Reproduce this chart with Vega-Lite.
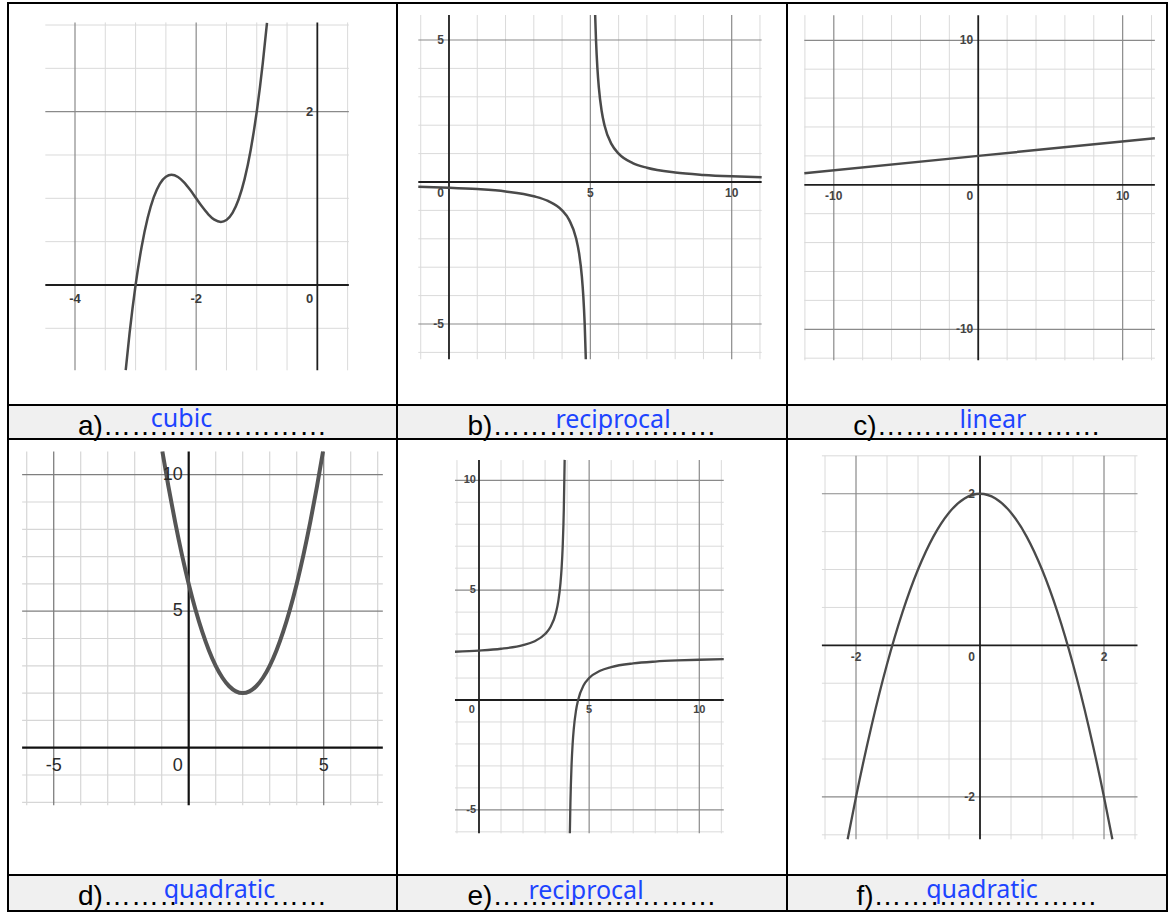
{
"$schema": "https://vega.github.io/schema/vega-lite/v6.json",
"background": "white",
"padding": {"left": 7, "top": 2, "right": 2, "bottom": 2},
"config": {"view": {"stroke": "#000000", "strokeWidth": 2}, "concat": {"spacing": 0}, "axis": {"disable": true}, "font": "Liberation Sans"},
"columns": 3,
"spacing": 0,
"bounds": "flush",
"concat": [
{
"width": 389, "height": 402,
"data": {"values": [
{"t":"x","k":"n","v":-3.5},{"t":"x","k":"n","v":-3},{"t":"x","k":"n","v":-2.5},{"t":"x","k":"n","v":-1.5},{"t":"x","k":"n","v":-1},{"t":"x","k":"n","v":-0.5},{"t":"x","k":"n","v":0.5},
{"t":"x","k":"m","v":-4},{"t":"x","k":"m","v":-2},{"t":"x","k":"a","v":0},
{"t":"y","k":"n","v":-0.5},{"t":"y","k":"n","v":0.5},{"t":"y","k":"n","v":1},{"t":"y","k":"n","v":1.5},{"t":"y","k":"n","v":2.5},{"t":"y","k":"n","v":3},
{"t":"y","k":"m","v":2},{"t":"y","k":"a","v":0},
{"t":"c","s":1,"x":-3.163,"y":-0.983},{"t":"c","s":1,"x":-3.1,"y":-0.562},{"t":"c","s":1,"x":-3,"y":0},{"t":"c","s":1,"x":-2.9,"y":0.442},{"t":"c","s":1,"x":-2.8,"y":0.776},{"t":"c","s":1,"x":-2.7,"y":1.014},{"t":"c","s":1,"x":-2.6,"y":1.168},{"t":"c","s":1,"x":-2.5,"y":1.25},{"t":"c","s":1,"x":-2.408,"y":1.272},{"t":"c","s":1,"x":-2.3,"y":1.246},{"t":"c","s":1,"x":-2.2,"y":1.184},{"t":"c","s":1,"x":-2.1,"y":1.098},{"t":"c","s":1,"x":-2,"y":1},{"t":"c","s":1,"x":-1.9,"y":0.902},{"t":"c","s":1,"x":-1.8,"y":0.816},{"t":"c","s":1,"x":-1.7,"y":0.754},{"t":"c","s":1,"x":-1.592,"y":0.728},{"t":"c","s":1,"x":-1.5,"y":0.75},{"t":"c","s":1,"x":-1.4,"y":0.832},{"t":"c","s":1,"x":-1.3,"y":0.986},{"t":"c","s":1,"x":-1.2,"y":1.224},{"t":"c","s":1,"x":-1.1,"y":1.558},{"t":"c","s":1,"x":-1,"y":2},{"t":"c","s":1,"x":-0.9,"y":2.562},{"t":"c","s":1,"x":-0.831,"y":3.026},
{"t":"b","x":-4,"y":0,"l":"-4"},{"t":"b","x":-2,"y":0,"l":"-2"},{"t":"o","x":0,"y":0,"l":"0"},{"t":"e","x":0,"y":2,"l":"2"}
]},
"layer": [
{"transform":[{"filter":"datum.t=='x'&&datum.k=='n'"}],"mark":{"type":"rule","color":"#dadada","strokeWidth":1},"encoding":{"x":{"field":"v","type":"quantitative","axis":null},"y":{"datum":-0.985,"axis":null},"y2":{"datum":3.03}}},
{"transform":[{"filter":"datum.t=='y'&&datum.k=='n'"}],"mark":{"type":"rule","color":"#dadada","strokeWidth":1},"encoding":{"y":{"field":"v","type":"quantitative","axis":null},"x":{"datum":-4.49,"axis":null},"x2":{"datum":0.52}}},
{"transform":[{"filter":"datum.t=='x'&&datum.k=='m'"}],"mark":{"type":"rule","color":"#8a8a8a","strokeWidth":1.2},"encoding":{"x":{"field":"v","type":"quantitative","axis":null},"y":{"datum":-0.985,"axis":null},"y2":{"datum":3.03}}},
{"transform":[{"filter":"datum.t=='y'&&datum.k=='m'"}],"mark":{"type":"rule","color":"#8a8a8a","strokeWidth":1.2},"encoding":{"y":{"field":"v","type":"quantitative","axis":null},"x":{"datum":-4.49,"axis":null},"x2":{"datum":0.52}}},
{"transform":[{"filter":"datum.t=='x'&&datum.k=='a'"}],"mark":{"type":"rule","color":"#1e1e1e","strokeWidth":1.8},"encoding":{"x":{"field":"v","type":"quantitative","axis":null},"y":{"datum":-0.985,"axis":null},"y2":{"datum":3.03}}},
{"transform":[{"filter":"datum.t=='y'&&datum.k=='a'"}],"mark":{"type":"rule","color":"#1e1e1e","strokeWidth":1.8},"encoding":{"y":{"field":"v","type":"quantitative","axis":null},"x":{"datum":-4.49,"axis":null},"x2":{"datum":0.52}}},
{"transform":[{"filter":"datum.t=='c'"}],"mark":{"type":"line","interpolate":"monotone","color":"#4a4a4a","strokeWidth":2.5},"encoding":{"x":{"field":"x","type":"quantitative","axis":null,"scale":{"domain":[-5.106,1.315],"nice":false,"zero":false}},"y":{"field":"y","type":"quantitative","axis":null,"scale":{"domain":[-1.385,3.254],"nice":false,"zero":false}},"detail":{"field":"s"}}},
{"transform":[{"filter":"datum.t=='b'"}],"mark":{"type":"text","align":"center","baseline":"top","dy":8,"fontSize":13,"fontWeight":"bold","color":"#3a3a3a"},"encoding":{"x":{"field":"x","type":"quantitative","axis":null},"y":{"field":"y","type":"quantitative","axis":null},"text":{"field":"l"}}},
{"transform":[{"filter":"datum.t=='o'"}],"mark":{"type":"text","align":"right","baseline":"top","dx":-4,"dy":8,"fontSize":13,"fontWeight":"bold","color":"#3a3a3a"},"encoding":{"x":{"field":"x","type":"quantitative","axis":null},"y":{"field":"y","type":"quantitative","axis":null},"text":{"field":"l"}}},
{"transform":[{"filter":"datum.t=='e'"}],"mark":{"type":"text","align":"right","baseline":"middle","dx":-4,"fontSize":13,"fontWeight":"bold","color":"#3a3a3a"},"encoding":{"x":{"field":"x","type":"quantitative","axis":null},"y":{"field":"y","type":"quantitative","axis":null},"text":{"field":"l"}}}
]
},
{
"width": 390, "height": 402,
"data": {"values": [
{"t":"x","k":"n","v":-1},{"t":"x","k":"n","v":1},{"t":"x","k":"n","v":2},{"t":"x","k":"n","v":3},{"t":"x","k":"n","v":4},{"t":"x","k":"n","v":6},{"t":"x","k":"n","v":7},{"t":"x","k":"n","v":8},{"t":"x","k":"n","v":9},{"t":"x","k":"n","v":11},
{"t":"x","k":"m","v":5},{"t":"x","k":"m","v":10},{"t":"x","k":"a","v":0},
{"t":"y","k":"n","v":-6},{"t":"y","k":"n","v":-4},{"t":"y","k":"n","v":-3},{"t":"y","k":"n","v":-2},{"t":"y","k":"n","v":-1},{"t":"y","k":"n","v":1},{"t":"y","k":"n","v":2},{"t":"y","k":"n","v":3},{"t":"y","k":"n","v":4},
{"t":"y","k":"m","v":-5},{"t":"y","k":"m","v":5},{"t":"y","k":"a","v":0},
{"t":"c","s":1,"x":-1.086,"y":-0.164},{"t":"c","s":1,"x":0,"y":-0.2},{"t":"c","s":1,"x":1,"y":-0.25},{"t":"c","s":1,"x":2,"y":-0.333},{"t":"c","s":1,"x":3,"y":-0.5},{"t":"c","s":1,"x":3.5,"y":-0.667},{"t":"c","s":1,"x":4,"y":-1},{"t":"c","s":1,"x":4.25,"y":-1.333},{"t":"c","s":1,"x":4.5,"y":-2},{"t":"c","s":1,"x":4.6,"y":-2.5},{"t":"c","s":1,"x":4.7,"y":-3.333},{"t":"c","s":1,"x":4.75,"y":-4},{"t":"c","s":1,"x":4.8,"y":-5},{"t":"c","s":1,"x":4.84,"y":-6.24},
{"t":"c","s":2,"x":5.17,"y":5.88},{"t":"c","s":2,"x":5.2,"y":5},{"t":"c","s":2,"x":5.25,"y":4},{"t":"c","s":2,"x":5.3,"y":3.333},{"t":"c","s":2,"x":5.4,"y":2.5},{"t":"c","s":2,"x":5.5,"y":2},{"t":"c","s":2,"x":5.75,"y":1.333},{"t":"c","s":2,"x":6,"y":1},{"t":"c","s":2,"x":6.5,"y":0.667},{"t":"c","s":2,"x":7,"y":0.5},{"t":"c","s":2,"x":8,"y":0.333},{"t":"c","s":2,"x":9,"y":0.25},{"t":"c","s":2,"x":10,"y":0.2},{"t":"c","s":2,"x":11.06,"y":0.165},
{"t":"b","x":5,"y":0,"l":"5"},{"t":"b","x":10,"y":0,"l":"10"},{"t":"o","x":0,"y":0,"l":"0"},{"t":"e","x":0,"y":5,"l":"5"},{"t":"e","x":0,"y":-5,"l":"-5"}
]},
"layer": [
{"transform":[{"filter":"datum.t=='x'&&datum.k=='n'"}],"mark":{"type":"rule","color":"#dadada","strokeWidth":1},"encoding":{"x":{"field":"v","type":"quantitative","axis":null},"y":{"datum":-6.24,"axis":null},"y2":{"datum":5.88}}},
{"transform":[{"filter":"datum.t=='y'&&datum.k=='n'"}],"mark":{"type":"rule","color":"#dadada","strokeWidth":1},"encoding":{"y":{"field":"v","type":"quantitative","axis":null},"x":{"datum":-1.086,"axis":null},"x2":{"datum":11.06}}},
{"transform":[{"filter":"datum.t=='x'&&datum.k=='m'"}],"mark":{"type":"rule","color":"#8a8a8a","strokeWidth":1.2},"encoding":{"x":{"field":"v","type":"quantitative","axis":null},"y":{"datum":-6.24,"axis":null},"y2":{"datum":5.88}}},
{"transform":[{"filter":"datum.t=='y'&&datum.k=='m'"}],"mark":{"type":"rule","color":"#8a8a8a","strokeWidth":1.2},"encoding":{"y":{"field":"v","type":"quantitative","axis":null},"x":{"datum":-1.086,"axis":null},"x2":{"datum":11.06}}},
{"transform":[{"filter":"datum.t=='x'&&datum.k=='a'"}],"mark":{"type":"rule","color":"#1e1e1e","strokeWidth":1.8},"encoding":{"x":{"field":"v","type":"quantitative","axis":null},"y":{"datum":-6.24,"axis":null},"y2":{"datum":5.88}}},
{"transform":[{"filter":"datum.t=='y'&&datum.k=='a'"}],"mark":{"type":"rule","color":"#1e1e1e","strokeWidth":1.8},"encoding":{"y":{"field":"v","type":"quantitative","axis":null},"x":{"datum":-1.086,"axis":null},"x2":{"datum":11.06}}},
{"transform":[{"filter":"datum.t=='c'"}],"mark":{"type":"line","interpolate":"monotone","color":"#4a4a4a","strokeWidth":2.5},"encoding":{"x":{"field":"x","type":"quantitative","axis":null,"scale":{"domain":[-1.839,11.956],"nice":false,"zero":false}},"y":{"field":"y","type":"quantitative","axis":null,"scale":{"domain":[-7.852,6.303],"nice":false,"zero":false}},"detail":{"field":"s"}}},
{"transform":[{"filter":"datum.t=='b'"}],"mark":{"type":"text","align":"center","baseline":"top","dy":6,"fontSize":12,"fontWeight":"bold","color":"#444444"},"encoding":{"x":{"field":"x","type":"quantitative","axis":null},"y":{"field":"y","type":"quantitative","axis":null},"text":{"field":"l"}}},
{"transform":[{"filter":"datum.t=='o'"}],"mark":{"type":"text","align":"right","baseline":"top","dx":-5,"dy":6,"fontSize":12,"fontWeight":"bold","color":"#444444"},"encoding":{"x":{"field":"x","type":"quantitative","axis":null},"y":{"field":"y","type":"quantitative","axis":null},"text":{"field":"l"}}},
{"transform":[{"filter":"datum.t=='e'"}],"mark":{"type":"text","align":"right","baseline":"middle","dx":-5,"fontSize":12,"fontWeight":"bold","color":"#444444"},"encoding":{"x":{"field":"x","type":"quantitative","axis":null},"y":{"field":"y","type":"quantitative","axis":null},"text":{"field":"l"}}}
]
},
{
"width": 380, "height": 402,
"data": {"values": [
{"t":"x","k":"n","v":-12},{"t":"x","k":"n","v":-8},{"t":"x","k":"n","v":-6},{"t":"x","k":"n","v":-4},{"t":"x","k":"n","v":-2},{"t":"x","k":"n","v":2},{"t":"x","k":"n","v":4},{"t":"x","k":"n","v":6},{"t":"x","k":"n","v":8},{"t":"x","k":"n","v":12},
{"t":"x","k":"m","v":-10},{"t":"x","k":"m","v":10},{"t":"x","k":"a","v":0},
{"t":"y","k":"n","v":-12},{"t":"y","k":"n","v":-8},{"t":"y","k":"n","v":-6},{"t":"y","k":"n","v":-4},{"t":"y","k":"n","v":-2},{"t":"y","k":"n","v":2},{"t":"y","k":"n","v":4},{"t":"y","k":"n","v":6},{"t":"y","k":"n","v":8},
{"t":"y","k":"m","v":-10},{"t":"y","k":"m","v":10},{"t":"y","k":"a","v":0},
{"t":"c","s":1,"x":-12.04,"y":0.796},{"t":"c","s":1,"x":0,"y":2},{"t":"c","s":1,"x":12.23,"y":3.223},
{"t":"b","x":-10,"y":0,"l":"-10"},{"t":"b","x":10,"y":0,"l":"10"},{"t":"o","x":0,"y":0,"l":"0"},{"t":"e","x":0,"y":10,"l":"10"},{"t":"e","x":0,"y":-10,"l":"-10"}
]},
"layer": [
{"transform":[{"filter":"datum.t=='x'&&datum.k=='n'"}],"mark":{"type":"rule","color":"#dadada","strokeWidth":1},"encoding":{"x":{"field":"v","type":"quantitative","axis":null},"y":{"datum":-12.15,"axis":null},"y2":{"datum":11.74}}},
{"transform":[{"filter":"datum.t=='y'&&datum.k=='n'"}],"mark":{"type":"rule","color":"#dadada","strokeWidth":1},"encoding":{"y":{"field":"v","type":"quantitative","axis":null},"x":{"datum":-12.04,"axis":null},"x2":{"datum":12.23}}},
{"transform":[{"filter":"datum.t=='x'&&datum.k=='m'"}],"mark":{"type":"rule","color":"#8a8a8a","strokeWidth":1.2},"encoding":{"x":{"field":"v","type":"quantitative","axis":null},"y":{"datum":-12.15,"axis":null},"y2":{"datum":11.74}}},
{"transform":[{"filter":"datum.t=='y'&&datum.k=='m'"}],"mark":{"type":"rule","color":"#8a8a8a","strokeWidth":1.2},"encoding":{"y":{"field":"v","type":"quantitative","axis":null},"x":{"datum":-12.04,"axis":null},"x2":{"datum":12.23}}},
{"transform":[{"filter":"datum.t=='x'&&datum.k=='a'"}],"mark":{"type":"rule","color":"#1e1e1e","strokeWidth":1.8},"encoding":{"x":{"field":"v","type":"quantitative","axis":null},"y":{"datum":-12.15,"axis":null},"y2":{"datum":11.74}}},
{"transform":[{"filter":"datum.t=='y'&&datum.k=='a'"}],"mark":{"type":"rule","color":"#1e1e1e","strokeWidth":1.8},"encoding":{"y":{"field":"v","type":"quantitative","axis":null},"x":{"datum":-12.04,"axis":null},"x2":{"datum":12.23}}},
{"transform":[{"filter":"datum.t=='c'"}],"mark":{"type":"line","color":"#4a4a4a","strokeWidth":2.5},"encoding":{"x":{"field":"x","type":"quantitative","axis":null,"scale":{"domain":[-13.24,13.07],"nice":false,"zero":false}},"y":{"field":"y","type":"quantitative","axis":null,"scale":{"domain":[-15.24,12.58],"nice":false,"zero":false}},"detail":{"field":"s"}}},
{"transform":[{"filter":"datum.t=='b'"}],"mark":{"type":"text","align":"center","baseline":"top","dy":6,"fontSize":12,"fontWeight":"bold","color":"#444444"},"encoding":{"x":{"field":"x","type":"quantitative","axis":null},"y":{"field":"y","type":"quantitative","axis":null},"text":{"field":"l"}}},
{"transform":[{"filter":"datum.t=='o'"}],"mark":{"type":"text","align":"right","baseline":"top","dx":-5,"dy":6,"fontSize":12,"fontWeight":"bold","color":"#444444"},"encoding":{"x":{"field":"x","type":"quantitative","axis":null},"y":{"field":"y","type":"quantitative","axis":null},"text":{"field":"l"}}},
{"transform":[{"filter":"datum.t=='e'"}],"mark":{"type":"text","align":"right","baseline":"middle","dx":-5,"fontSize":12,"fontWeight":"bold","color":"#444444"},"encoding":{"x":{"field":"x","type":"quantitative","axis":null},"y":{"field":"y","type":"quantitative","axis":null},"text":{"field":"l"}}}
]
},
{
"width": 389, "height": 34, "view": {"fill": "#f0f0f0", "stroke": "#000000", "strokeWidth": 2},
"data": {"values": [{"p": "a)\u2026\u2026\u2026\u2026\u2026\u2026\u2026\u2026", "w": "cubic"}]},
"layer": [
{"mark": {"type": "text", "font": "Liberation Sans", "fontSize": 28, "baseline": "alphabetic", "dy": 13, "color": "#000000"}, "encoding": {"text": {"field": "p"}}},
{"mark": {"type": "text", "font": "Noto Sans", "fontSize": 25, "baseline": "alphabetic", "dx": -21, "dy": 5, "color": "#1d44ff"}, "encoding": {"text": {"field": "w"}}}
]
},
{
"width": 390, "height": 34, "view": {"fill": "#f0f0f0", "stroke": "#000000", "strokeWidth": 2},
"data": {"values": [{"p": "b)\u2026\u2026\u2026\u2026\u2026\u2026\u2026\u2026", "w": "reciprocal"}]},
"layer": [
{"mark": {"type": "text", "font": "Liberation Sans", "fontSize": 28, "baseline": "alphabetic", "dy": 13, "color": "#000000"}, "encoding": {"text": {"field": "p"}}},
{"mark": {"type": "text", "font": "Noto Sans", "fontSize": 25, "baseline": "alphabetic", "dx": 21, "dy": 6, "color": "#1d44ff"}, "encoding": {"text": {"field": "w"}}}
]
},
{
"width": 380, "height": 34, "view": {"fill": "#f0f0f0", "stroke": "#000000", "strokeWidth": 2},
"data": {"values": [{"p": "c)\u2026\u2026\u2026\u2026\u2026\u2026\u2026\u2026", "w": "linear"}]},
"layer": [
{"mark": {"type": "text", "font": "Liberation Sans", "fontSize": 28, "baseline": "alphabetic", "dy": 13, "color": "#000000"}, "encoding": {"text": {"field": "p"}}},
{"mark": {"type": "text", "font": "Noto Sans", "fontSize": 25, "baseline": "alphabetic", "dx": 16, "dy": 6, "color": "#1d44ff"}, "encoding": {"text": {"field": "w"}}}
]
},
{
"width": 389, "height": 436,
"data": {"values": [
{"t":"x","k":"n","v":-6},{"t":"x","k":"n","v":-4},{"t":"x","k":"n","v":-3},{"t":"x","k":"n","v":-2},{"t":"x","k":"n","v":-1},{"t":"x","k":"n","v":1},{"t":"x","k":"n","v":2},{"t":"x","k":"n","v":3},{"t":"x","k":"n","v":4},{"t":"x","k":"n","v":6},{"t":"x","k":"n","v":7},
{"t":"x","k":"m","v":-5},{"t":"x","k":"m","v":5},{"t":"x","k":"a","v":0},
{"t":"y","k":"n","v":-2},{"t":"y","k":"n","v":-1},{"t":"y","k":"n","v":1},{"t":"y","k":"n","v":2},{"t":"y","k":"n","v":3},{"t":"y","k":"n","v":4},{"t":"y","k":"n","v":6},{"t":"y","k":"n","v":7},{"t":"y","k":"n","v":8},{"t":"y","k":"n","v":9},
{"t":"y","k":"m","v":5},{"t":"y","k":"m","v":10},{"t":"y","k":"a","v":0},
{"t":"c","s":1,"x":-0.975,"y":10.851},{"t":"c","s":1,"x":-0.75,"y":9.563},{"t":"c","s":1,"x":-0.5,"y":8.25},{"t":"c","s":1,"x":-0.25,"y":7.063},{"t":"c","s":1,"x":0,"y":6},{"t":"c","s":1,"x":0.25,"y":5.063},{"t":"c","s":1,"x":0.5,"y":4.25},{"t":"c","s":1,"x":0.75,"y":3.563},{"t":"c","s":1,"x":1,"y":3},{"t":"c","s":1,"x":1.25,"y":2.563},{"t":"c","s":1,"x":1.5,"y":2.25},{"t":"c","s":1,"x":1.75,"y":2.063},{"t":"c","s":1,"x":2,"y":2},{"t":"c","s":1,"x":2.25,"y":2.063},{"t":"c","s":1,"x":2.5,"y":2.25},{"t":"c","s":1,"x":2.75,"y":2.563},{"t":"c","s":1,"x":3,"y":3},{"t":"c","s":1,"x":3.25,"y":3.563},{"t":"c","s":1,"x":3.5,"y":4.25},{"t":"c","s":1,"x":3.75,"y":5.063},{"t":"c","s":1,"x":4,"y":6},{"t":"c","s":1,"x":4.25,"y":7.063},{"t":"c","s":1,"x":4.5,"y":8.25},{"t":"c","s":1,"x":4.75,"y":9.563},{"t":"c","s":1,"x":4.975,"y":10.851},
{"t":"b","x":-5,"y":0,"l":"-5"},{"t":"b","x":5,"y":0,"l":"5"},{"t":"o","x":0,"y":0,"l":"0"},{"t":"e","x":0,"y":5,"l":"5"},{"t":"e","x":0,"y":10,"l":"10"}
]},
"layer": [
{"transform":[{"filter":"datum.t=='x'&&datum.k=='n'"}],"mark":{"type":"rule","color":"#d6d6d6","strokeWidth":1.2},"encoding":{"x":{"field":"v","type":"quantitative","axis":null},"y":{"datum":-2.11,"axis":null},"y2":{"datum":10.85}}},
{"transform":[{"filter":"datum.t=='y'&&datum.k=='n'"}],"mark":{"type":"rule","color":"#d6d6d6","strokeWidth":1.2},"encoding":{"y":{"field":"v","type":"quantitative","axis":null},"x":{"datum":-6.17,"axis":null},"x2":{"datum":7.19}}},
{"transform":[{"filter":"datum.t=='x'&&datum.k=='m'"}],"mark":{"type":"rule","color":"#7f7f7f","strokeWidth":1.3},"encoding":{"x":{"field":"v","type":"quantitative","axis":null},"y":{"datum":-2.11,"axis":null},"y2":{"datum":10.85}}},
{"transform":[{"filter":"datum.t=='y'&&datum.k=='m'"}],"mark":{"type":"rule","color":"#7f7f7f","strokeWidth":1.3},"encoding":{"y":{"field":"v","type":"quantitative","axis":null},"x":{"datum":-6.17,"axis":null},"x2":{"datum":7.19}}},
{"transform":[{"filter":"datum.t=='x'&&datum.k=='a'"}],"mark":{"type":"rule","color":"#111111","strokeWidth":2.2},"encoding":{"x":{"field":"v","type":"quantitative","axis":null},"y":{"datum":-2.11,"axis":null},"y2":{"datum":10.85}}},
{"transform":[{"filter":"datum.t=='y'&&datum.k=='a'"}],"mark":{"type":"rule","color":"#111111","strokeWidth":2.2},"encoding":{"y":{"field":"v","type":"quantitative","axis":null},"x":{"datum":-6.17,"axis":null},"x2":{"datum":7.19}}},
{"transform":[{"filter":"datum.t=='c'"}],"mark":{"type":"line","interpolate":"monotone","color":"#555555","strokeWidth":4},"encoding":{"x":{"field":"x","type":"quantitative","axis":null,"scale":{"domain":[-6.693,7.715],"nice":false,"zero":false}},"y":{"field":"y","type":"quantitative","axis":null,"scale":{"domain":[-4.663,11.308],"nice":false,"zero":false}},"detail":{"field":"s"}}},
{"transform":[{"filter":"datum.t=='b'"}],"mark":{"type":"text","align":"center","baseline":"top","dy":9,"fontSize":18,"color":"#2a2a2a"},"encoding":{"x":{"field":"x","type":"quantitative","axis":null},"y":{"field":"y","type":"quantitative","axis":null},"text":{"field":"l"}}},
{"transform":[{"filter":"datum.t=='o'"}],"mark":{"type":"text","align":"right","baseline":"top","dx":-6,"dy":9,"fontSize":18,"color":"#2a2a2a"},"encoding":{"x":{"field":"x","type":"quantitative","axis":null},"y":{"field":"y","type":"quantitative","axis":null},"text":{"field":"l"}}},
{"transform":[{"filter":"datum.t=='e'"}],"mark":{"type":"text","align":"right","baseline":"middle","dx":-6,"fontSize":18,"color":"#2a2a2a"},"encoding":{"x":{"field":"x","type":"quantitative","axis":null},"y":{"field":"y","type":"quantitative","axis":null},"text":{"field":"l"}}}
]
},
{
"width": 390, "height": 436,
"data": {"values": [
{"t":"x","k":"n","v":-1},{"t":"x","k":"n","v":1},{"t":"x","k":"n","v":2},{"t":"x","k":"n","v":3},{"t":"x","k":"n","v":4},{"t":"x","k":"n","v":6},{"t":"x","k":"n","v":7},{"t":"x","k":"n","v":8},{"t":"x","k":"n","v":9},{"t":"x","k":"n","v":11},
{"t":"x","k":"m","v":5},{"t":"x","k":"m","v":10},{"t":"x","k":"a","v":0},
{"t":"y","k":"n","v":-6},{"t":"y","k":"n","v":-4},{"t":"y","k":"n","v":-3},{"t":"y","k":"n","v":-2},{"t":"y","k":"n","v":-1},{"t":"y","k":"n","v":1},{"t":"y","k":"n","v":2},{"t":"y","k":"n","v":3},{"t":"y","k":"n","v":4},{"t":"y","k":"n","v":6},{"t":"y","k":"n","v":7},{"t":"y","k":"n","v":8},{"t":"y","k":"n","v":9},
{"t":"y","k":"m","v":-5},{"t":"y","k":"m","v":5},{"t":"y","k":"m","v":10},{"t":"y","k":"a","v":0},
{"t":"c","s":1,"x":-1.09,"y":2.196},{"t":"c","s":1,"x":0,"y":2.25},{"t":"c","s":1,"x":1,"y":2.333},{"t":"c","s":1,"x":2,"y":2.5},{"t":"c","s":1,"x":2.5,"y":2.667},{"t":"c","s":1,"x":3,"y":3},{"t":"c","s":1,"x":3.25,"y":3.333},{"t":"c","s":1,"x":3.5,"y":4},{"t":"c","s":1,"x":3.6,"y":4.5},{"t":"c","s":1,"x":3.7,"y":5.333},{"t":"c","s":1,"x":3.75,"y":6},{"t":"c","s":1,"x":3.8,"y":7},{"t":"c","s":1,"x":3.85,"y":8.667},{"t":"c","s":1,"x":3.888,"y":10.929},
{"t":"c","s":2,"x":4.124,"y":-6.065},{"t":"c","s":2,"x":4.15,"y":-4.667},{"t":"c","s":2,"x":4.2,"y":-3},{"t":"c","s":2,"x":4.25,"y":-2},{"t":"c","s":2,"x":4.3,"y":-1.333},{"t":"c","s":2,"x":4.4,"y":-0.5},{"t":"c","s":2,"x":4.5,"y":0},{"t":"c","s":2,"x":4.75,"y":0.667},{"t":"c","s":2,"x":5,"y":1},{"t":"c","s":2,"x":5.5,"y":1.333},{"t":"c","s":2,"x":6,"y":1.5},{"t":"c","s":2,"x":7,"y":1.667},{"t":"c","s":2,"x":8,"y":1.75},{"t":"c","s":2,"x":9,"y":1.8},{"t":"c","s":2,"x":10,"y":1.833},{"t":"c","s":2,"x":11.11,"y":1.859},
{"t":"b","x":5,"y":0,"l":"5"},{"t":"b","x":10,"y":0,"l":"10"},{"t":"o","x":0,"y":0,"l":"0"},{"t":"e","x":0,"y":10,"l":"10"},{"t":"e","x":0,"y":5,"l":"5"},{"t":"e","x":0,"y":-5,"l":"-5"}
]},
"layer": [
{"transform":[{"filter":"datum.t=='x'&&datum.k=='n'"}],"mark":{"type":"rule","color":"#dadada","strokeWidth":1},"encoding":{"x":{"field":"v","type":"quantitative","axis":null},"y":{"datum":-6.07,"axis":null},"y2":{"datum":10.92}}},
{"transform":[{"filter":"datum.t=='y'&&datum.k=='n'"}],"mark":{"type":"rule","color":"#dadada","strokeWidth":1},"encoding":{"y":{"field":"v","type":"quantitative","axis":null},"x":{"datum":-1.09,"axis":null},"x2":{"datum":11.11}}},
{"transform":[{"filter":"datum.t=='x'&&datum.k=='m'"}],"mark":{"type":"rule","color":"#8a8a8a","strokeWidth":1.2},"encoding":{"x":{"field":"v","type":"quantitative","axis":null},"y":{"datum":-6.07,"axis":null},"y2":{"datum":10.92}}},
{"transform":[{"filter":"datum.t=='y'&&datum.k=='m'"}],"mark":{"type":"rule","color":"#8a8a8a","strokeWidth":1.2},"encoding":{"y":{"field":"v","type":"quantitative","axis":null},"x":{"datum":-1.09,"axis":null},"x2":{"datum":11.11}}},
{"transform":[{"filter":"datum.t=='x'&&datum.k=='a'"}],"mark":{"type":"rule","color":"#1e1e1e","strokeWidth":1.8},"encoding":{"x":{"field":"v","type":"quantitative","axis":null},"y":{"datum":-6.07,"axis":null},"y2":{"datum":10.92}}},
{"transform":[{"filter":"datum.t=='y'&&datum.k=='a'"}],"mark":{"type":"rule","color":"#1e1e1e","strokeWidth":1.8},"encoding":{"y":{"field":"v","type":"quantitative","axis":null},"x":{"datum":-1.09,"axis":null},"x2":{"datum":11.11}}},
{"transform":[{"filter":"datum.t=='c'"}],"mark":{"type":"line","interpolate":"monotone","color":"#4a4a4a","strokeWidth":2.3},"encoding":{"x":{"field":"x","type":"quantitative","axis":null,"scale":{"domain":[-3.722,13.981],"nice":false,"zero":false}},"y":{"field":"y","type":"quantitative","axis":null,"scale":{"domain":[-7.965,11.88],"nice":false,"zero":false}},"detail":{"field":"s"}}},
{"transform":[{"filter":"datum.t=='b'"}],"mark":{"type":"text","align":"center","baseline":"top","dy":4,"fontSize":11,"fontWeight":"bold","color":"#444444"},"encoding":{"x":{"field":"x","type":"quantitative","axis":null},"y":{"field":"y","type":"quantitative","axis":null},"text":{"field":"l"}}},
{"transform":[{"filter":"datum.t=='o'"}],"mark":{"type":"text","align":"right","baseline":"top","dx":-4,"dy":4,"fontSize":11,"fontWeight":"bold","color":"#444444"},"encoding":{"x":{"field":"x","type":"quantitative","axis":null},"y":{"field":"y","type":"quantitative","axis":null},"text":{"field":"l"}}},
{"transform":[{"filter":"datum.t=='e'"}],"mark":{"type":"text","align":"right","baseline":"middle","dx":-3,"fontSize":11,"fontWeight":"bold","color":"#444444"},"encoding":{"x":{"field":"x","type":"quantitative","axis":null},"y":{"field":"y","type":"quantitative","axis":null},"text":{"field":"l"}}}
]
},
{
"width": 380, "height": 436,
"data": {"values": [
{"t":"x","k":"n","v":-2.5},{"t":"x","k":"n","v":-1.5},{"t":"x","k":"n","v":-1},{"t":"x","k":"n","v":-0.5},{"t":"x","k":"n","v":0.5},{"t":"x","k":"n","v":1},{"t":"x","k":"n","v":1.5},{"t":"x","k":"n","v":2.5},
{"t":"x","k":"m","v":-2},{"t":"x","k":"m","v":2},{"t":"x","k":"a","v":0},
{"t":"y","k":"n","v":-2.5},{"t":"y","k":"n","v":-1.5},{"t":"y","k":"n","v":-1},{"t":"y","k":"n","v":-0.5},{"t":"y","k":"n","v":0.5},{"t":"y","k":"n","v":1},{"t":"y","k":"n","v":1.5},{"t":"y","k":"n","v":2.5},
{"t":"y","k":"m","v":-2},{"t":"y","k":"m","v":2},{"t":"y","k":"a","v":0},
{"t":"c","s":1,"x":-2.135,"y":-2.558},{"t":"c","s":1,"x":-2,"y":-2},{"t":"c","s":1,"x":-1.75,"y":-1.063},{"t":"c","s":1,"x":-1.5,"y":-0.25},{"t":"c","s":1,"x":-1.25,"y":0.438},{"t":"c","s":1,"x":-1,"y":1},{"t":"c","s":1,"x":-0.75,"y":1.438},{"t":"c","s":1,"x":-0.5,"y":1.75},{"t":"c","s":1,"x":-0.25,"y":1.938},{"t":"c","s":1,"x":0,"y":2},{"t":"c","s":1,"x":0.25,"y":1.938},{"t":"c","s":1,"x":0.5,"y":1.75},{"t":"c","s":1,"x":0.75,"y":1.438},{"t":"c","s":1,"x":1,"y":1},{"t":"c","s":1,"x":1.25,"y":0.438},{"t":"c","s":1,"x":1.5,"y":-0.25},{"t":"c","s":1,"x":1.75,"y":-1.063},{"t":"c","s":1,"x":2,"y":-2},{"t":"c","s":1,"x":2.135,"y":-2.558},
{"t":"b","x":-2,"y":0,"l":"-2"},{"t":"b","x":2,"y":0,"l":"2"},{"t":"o","x":0,"y":0,"l":"0"},{"t":"e","x":0,"y":2,"l":"2"},{"t":"e","x":0,"y":-2,"l":"-2"}
]},
"layer": [
{"transform":[{"filter":"datum.t=='x'&&datum.k=='n'"}],"mark":{"type":"rule","color":"#dadada","strokeWidth":1},"encoding":{"x":{"field":"v","type":"quantitative","axis":null},"y":{"datum":-2.56,"axis":null},"y2":{"datum":2.5}}},
{"transform":[{"filter":"datum.t=='y'&&datum.k=='n'"}],"mark":{"type":"rule","color":"#dadada","strokeWidth":1},"encoding":{"y":{"field":"v","type":"quantitative","axis":null},"x":{"datum":-2.55,"axis":null},"x2":{"datum":2.54}}},
{"transform":[{"filter":"datum.t=='x'&&datum.k=='m'"}],"mark":{"type":"rule","color":"#8a8a8a","strokeWidth":1.2},"encoding":{"x":{"field":"v","type":"quantitative","axis":null},"y":{"datum":-2.56,"axis":null},"y2":{"datum":2.5}}},
{"transform":[{"filter":"datum.t=='y'&&datum.k=='m'"}],"mark":{"type":"rule","color":"#8a8a8a","strokeWidth":1.2},"encoding":{"y":{"field":"v","type":"quantitative","axis":null},"x":{"datum":-2.55,"axis":null},"x2":{"datum":2.54}}},
{"transform":[{"filter":"datum.t=='x'&&datum.k=='a'"}],"mark":{"type":"rule","color":"#1e1e1e","strokeWidth":1.8},"encoding":{"x":{"field":"v","type":"quantitative","axis":null},"y":{"datum":-2.56,"axis":null},"y2":{"datum":2.5}}},
{"transform":[{"filter":"datum.t=='y'&&datum.k=='a'"}],"mark":{"type":"rule","color":"#1e1e1e","strokeWidth":1.8},"encoding":{"y":{"field":"v","type":"quantitative","axis":null},"x":{"datum":-2.55,"axis":null},"x2":{"datum":2.54}}},
{"transform":[{"filter":"datum.t=='c'"}],"mark":{"type":"line","interpolate":"monotone","color":"#4a4a4a","strokeWidth":2.3},"encoding":{"x":{"field":"x","type":"quantitative","axis":null,"scale":{"domain":[-3.113,3.016],"nice":false,"zero":false}},"y":{"field":"y","type":"quantitative","axis":null,"scale":{"domain":[-3.03,2.722],"nice":false,"zero":false}},"detail":{"field":"s"}}},
{"transform":[{"filter":"datum.t=='b'"}],"mark":{"type":"text","align":"center","baseline":"top","dy":7,"fontSize":12,"fontWeight":"bold","color":"#444444"},"encoding":{"x":{"field":"x","type":"quantitative","axis":null},"y":{"field":"y","type":"quantitative","axis":null},"text":{"field":"l"}}},
{"transform":[{"filter":"datum.t=='o'"}],"mark":{"type":"text","align":"right","baseline":"top","dx":-5,"dy":7,"fontSize":12,"fontWeight":"bold","color":"#444444"},"encoding":{"x":{"field":"x","type":"quantitative","axis":null},"y":{"field":"y","type":"quantitative","axis":null},"text":{"field":"l"}}},
{"transform":[{"filter":"datum.t=='e'"}],"mark":{"type":"text","align":"right","baseline":"middle","dx":-5,"fontSize":12,"fontWeight":"bold","color":"#444444"},"encoding":{"x":{"field":"x","type":"quantitative","axis":null},"y":{"field":"y","type":"quantitative","axis":null},"text":{"field":"l"}}}
]
},
{
"width": 389, "height": 36, "view": {"fill": "#f0f0f0", "stroke": "#000000", "strokeWidth": 2},
"data": {"values": [{"p": "d)\u2026\u2026\u2026\u2026\u2026\u2026\u2026\u2026", "w": "quadratic"}]},
"layer": [
{"mark": {"type": "text", "font": "Liberation Sans", "fontSize": 28, "baseline": "alphabetic", "dy": 12, "color": "#000000"}, "encoding": {"text": {"field": "p"}}},
{"mark": {"type": "text", "font": "Noto Sans", "fontSize": 25, "baseline": "alphabetic", "dx": 17, "dy": 5, "color": "#1d44ff"}, "encoding": {"text": {"field": "w"}}}
]
},
{
"width": 390, "height": 36, "view": {"fill": "#f0f0f0", "stroke": "#000000", "strokeWidth": 2},
"data": {"values": [{"p": "e)\u2026\u2026\u2026\u2026\u2026\u2026\u2026\u2026", "w": "reciprocal"}]},
"layer": [
{"mark": {"type": "text", "font": "Liberation Sans", "fontSize": 28, "baseline": "alphabetic", "dy": 12, "color": "#000000"}, "encoding": {"text": {"field": "p"}}},
{"mark": {"type": "text", "font": "Noto Sans", "fontSize": 25, "baseline": "alphabetic", "dx": -6, "dy": 6, "color": "#1d44ff"}, "encoding": {"text": {"field": "w"}}}
]
},
{
"width": 380, "height": 36, "view": {"fill": "#f0f0f0", "stroke": "#000000", "strokeWidth": 2},
"data": {"values": [{"p": "f)\u2026\u2026\u2026\u2026\u2026\u2026\u2026\u2026", "w": "quadratic"}]},
"layer": [
{"mark": {"type": "text", "font": "Liberation Sans", "fontSize": 28, "baseline": "alphabetic", "dy": 12, "color": "#000000"}, "encoding": {"text": {"field": "p"}}},
{"mark": {"type": "text", "font": "Noto Sans", "fontSize": 25, "baseline": "alphabetic", "dx": 5, "dy": 5, "color": "#1d44ff"}, "encoding": {"text": {"field": "w"}}}
]
}
]
}
